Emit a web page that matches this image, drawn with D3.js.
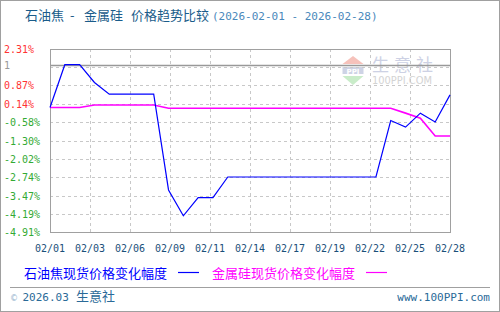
<!DOCTYPE html>
<html lang="zh">

<head>
  <meta charset="utf-8">
  <script src="https://d3js.org/d3.v7.min.js"></script>
  <style>
    body {
      margin: 0;
      background: #fff;
    }

    .mono {
      font-family: "DejaVu Sans Mono", monospace;
    }

    .cjk {
      font-family: "Noto Sans CJK SC", sans-serif;
    }

    .grid {
      stroke: #c8c8c8;
      stroke-dasharray: 3, 3;
      shape-rendering: crispEdges;
    }
  </style>
</head>

<body>
  <script>
    // day of month (Feb 2026)
    var days = [1, 2, 3, 4, 5, 6, 7, 8, 9, 10, 11, 12, 13, 14, 15, 16, 17, 18, 19, 20,
      21, 22, 23, 24, 25, 26, 27, 28];

    // 石油焦 现货价格变化幅度 (%)
    var petcoke = [0, 1.69, 1.69, 0.99, 0.53, 0.53, 0.53, 0.53, -3.25, -4.27, -3.55, -3.55,
      -2.74, -2.74, -2.74, -2.74, -2.74, -2.74, -2.74, -2.74, -2.74, -2.74, -2.74,
      -0.51, -0.77, -0.22, -0.57, 0.50];

    // 金属硅 现货价格变化幅度 (%)
    var silicon = [0, 0, 0, 0.10, 0.10, 0.10, 0.10, 0.10, -0.03, -0.03, -0.03, -0.03,
      -0.03, -0.03, -0.03, -0.03, -0.03, -0.03, -0.03, -0.03, -0.03, -0.03, -0.03,
      -0.03, -0.22, -0.42, -1.12, -1.12];

    var yTicks = [2.31, 1.59, 0.87, 0.14, -0.58, -1.30, -2.02, -2.74, -3.47, -4.19, -4.91];
    var yTickLabels = ["2.31%", "", "0.87%", "0.14%", "-0.58%", "-1.30%", "-2.02%",
      "-2.74%", "-3.47%", "-4.19%", "-4.91%"];
    var refValue = 1.69, refLabel = "1";

    var xTickLabels = ["02/01", "02/03", "02/06", "02/09", "02/11", "02/14", "02/17",
      "02/19", "02/22", "02/25", "02/28"];

    var seriesNames = ["石油焦现货价格变化幅度", "金属硅现货价格变化幅度"];
    var seriesColors = ["#0000ff", "#ff00ff"];

    var w = 500,
      h = 312,
      plotLeft = 50,
      plotRight = 450,
      plotTop = 49,
      plotBottom = 232;

    var svg = d3.select("body")
      .append("svg")
      .attr("width", w)
      .attr("height", h);

    var x = d3.scaleLinear().domain([1, 28]).range([plotLeft, plotRight]);
    var y = d3.scaleLinear().domain([-4.91, 2.31]).range([plotBottom, plotTop]);

    // outer frame
    svg.append("rect")
      .attr("x", 0.5).attr("y", 0.5)
      .attr("width", w - 1).attr("height", h - 1)
      .attr("fill", "none").attr("stroke", "#a0a0a0");

    // title
    var title = svg.append("text").attr("y", 20).attr("fill", "#1a5c8a")
      .attr("class", "cjk").attr("font-size", 13);
    title.append("tspan").attr("x", 25).text("石油焦");
    title.append("tspan").attr("x", 70).text("-");
    title.append("tspan").attr("x", 84).text("金属硅");
    title.append("tspan").attr("x", 131).text("价格趋势比较");
    title.append("tspan").attr("class", "mono").attr("x", 212).attr("font-size", 11)
      .attr("fill", "#4a88bb").text("(2026-02-01 - 2026-02-28)");

    // watermark
    var wm = svg.append("g").attr("opacity", 0.9);
    wm.append("path")
      .attr("d", "M353,56 L363.5,64 L342.5,64 Z")
      .attr("fill", "#f6bcb4");
    wm.append("rect").attr("x", 342.5).attr("y", 67).attr("width", 21).attr("height", 7)
      .attr("fill", "#c9cfe3");
    wm.append("text").attr("x", 353).attr("y", 73.5).attr("text-anchor", "middle")
      .attr("font-family", "DejaVu Sans").attr("font-weight", "bold")
      .attr("font-size", 7).attr("fill", "#fff").text("PPI");
    wm.append("path")
      .attr("d", "M342.5,76 L363.5,76 L353,85 Z")
      .attr("fill", "#c4ebc4");
    wm.append("text").attr("class", "cjk").attr("x", 372).attr("y", 71)
      .attr("font-size", 17).attr("letter-spacing", 5).attr("fill", "#c8cde2")
      .text("生意社");
    wm.append("text").attr("x", 372).attr("y", 84)
      .attr("font-family", "DejaVu Sans").attr("font-size", 10)
      .attr("textLength", 60).attr("lengthAdjust", "spacingAndGlyphs")
      .attr("fill", "#cfcfcf").text("100PPI.COM");

    // grid
    svg.selectAll("line.hgrid")
      .data(yTicks.slice(1, -1))
      .enter()
      .append("line")
      .attr("class", "grid hgrid")
      .attr("x1", plotLeft).attr("x2", plotRight)
      .attr("y1", function (d) { return Math.round(y(d)) + 0.5; })
      .attr("y2", function (d) { return Math.round(y(d)) + 0.5; });

    var xTickDays = xTickLabels.map(function (d, i) {
      return 1 + 27 * i / (xTickLabels.length - 1);
    });

    svg.selectAll("line.vgrid")
      .data(xTickDays.slice(1, -1))
      .enter()
      .append("line")
      .attr("class", "grid vgrid")
      .attr("y1", plotTop).attr("y2", plotBottom)
      .attr("x1", function (d) { return Math.round(x(d)) + 0.5; })
      .attr("x2", function (d) { return Math.round(x(d)) + 0.5; });

    // reference line
    svg.append("line")
      .attr("x1", plotLeft).attr("x2", plotRight)
      .attr("y1", Math.round(y(refValue)) + 0.5)
      .attr("y2", Math.round(y(refValue)) + 0.5)
      .attr("stroke", "#999").attr("stroke-width", 1.3);

    // plot border
    svg.append("rect")
      .attr("x", plotLeft + 0.5).attr("y", plotTop + 0.5)
      .attr("width", plotRight - plotLeft).attr("height", plotBottom - plotTop)
      .attr("fill", "none").attr("stroke", "#a0a0a0")
      .attr("shape-rendering", "crispEdges");

    // y labels
    svg.selectAll("text.ylab")
      .data(yTicks)
      .enter()
      .append("text")
      .attr("class", "mono ylab")
      .attr("x", 4)
      .attr("y", function (d) { return y(d) + 4; })
      .attr("font-size", 10)
      .attr("fill", function (d) { return d > 0 ? "#ff3333" : "#33aa33"; })
      .text(function (d, i) { return yTickLabels[i]; });

    svg.append("text")
      .attr("class", "mono")
      .attr("x", 4)
      .attr("y", y(refValue) + 4)
      .attr("font-size", 10)
      .attr("fill", "#999")
      .text(refLabel);

    // x labels
    svg.selectAll("text.xlab")
      .data(xTickDays)
      .enter()
      .append("text")
      .attr("class", "mono xlab")
      .attr("x", function (d) { return x(d); })
      .attr("y", 252)
      .attr("text-anchor", "middle")
      .attr("font-size", 10)
      .attr("fill", "#1a4f7a")
      .text(function (d, i) { return xTickLabels[i]; });

    // series
    var line = d3.line()
      .x(function (d) { return x(d[0]); })
      .y(function (d) { return y(d[1]); });

    svg.append("path")
      .datum(days.map(function (d, i) { return [d, silicon[i]]; }))
      .attr("d", line)
      .attr("fill", "none")
      .attr("stroke", seriesColors[1])
      .attr("stroke-width", 1.6);

    svg.append("path")
      .datum(days.map(function (d, i) { return [d, petcoke[i]]; }))
      .attr("d", line)
      .attr("fill", "none")
      .attr("stroke", seriesColors[0])
      .attr("stroke-width", 1.2);

    // legend
    var legendX = [24, 212];
    seriesNames.forEach(function (name, i) {
      svg.append("text")
        .attr("class", "cjk")
        .attr("x", legendX[i])
        .attr("y", 277.5)
        .attr("font-size", 13)
        .attr("fill", seriesColors[i])
        .text(name);
      var end = legendX[i] + 146;
      svg.append("line")
        .attr("x1", end + 8).attr("x2", end + 29)
        .attr("y1", 272.5).attr("y2", 272.5)
        .attr("stroke", seriesColors[i]).attr("stroke-width", 1.2);
    });

    // footer
    svg.append("line")
      .attr("x1", 10).attr("x2", 490)
      .attr("y1", 287.5).attr("y2", 287.5)
      .attr("stroke", "#a0a0a0");

    var foot = svg.append("text").attr("y", 301).attr("fill", "#2a6a98");
    foot.append("tspan").attr("x", 10).attr("font-family", "DejaVu Sans")
      .attr("font-size", 8).attr("fill", "#8fb0cc").text("©");
    foot.append("tspan").attr("class", "mono").attr("x", 22.5).attr("font-size", 11)
      .text("2026.03");
    foot.append("tspan").attr("class", "cjk").attr("x", 76).attr("font-size", 13)
      .text("生意社");

    svg.append("text")
      .attr("class", "mono")
      .attr("x", 490)
      .attr("y", 301)
      .attr("text-anchor", "end")
      .attr("font-size", 11)
      .attr("fill", "#2a6a98")
      .text("www.100PPI.com");
  </script>
</body>

</html>
